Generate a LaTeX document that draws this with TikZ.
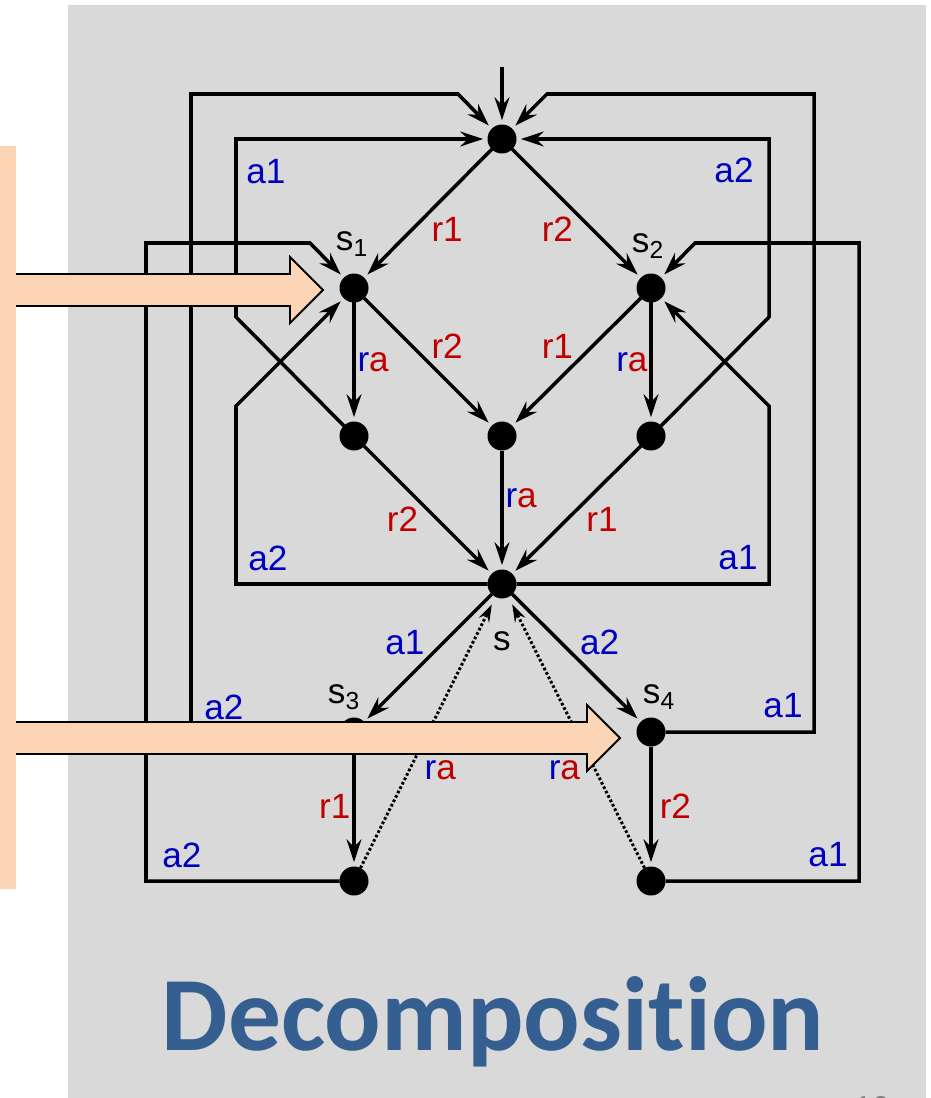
\documentclass[tikz,border=0pt]{standalone}
\usepackage{fontspec}
\setmainfont{Liberation Sans}
\newfontfamily\titlefont[Ligatures=NoCommon]{Carlito}
\usetikzlibrary{arrows.meta, positioning}

\definecolor{slidegray}{HTML}{D9D9D9}
\definecolor{peach}{HTML}{FBD5B5}
\definecolor{actblue}{HTML}{0000C0}
\definecolor{resred}{HTML}{C00000}
\definecolor{titleblue}{HTML}{365F91}

\newcommand{\ralab}{{\color{actblue}r}{\color{resred}a}}

\begin{document}
\begin{tikzpicture}[x=0.02cm, y=-0.02cm,
    st/.style={circle, fill=black, minimum size=0.58cm, inner sep=0pt, outer sep=0pt},
    tr/.style={line width=2pt, line join=miter, -{Stealth[length=13pt, width=8.5pt, inset=4.5pt]}, shorten >=2.5pt},
    obs/.style={line width=1.7pt, dash pattern=on 1.5pt off 1.3pt, -{Stealth[length=10pt, width=6.5pt, inset=3.5pt]}, shorten >=4.7pt},
    lab/.style={font=\fontsize{20}{24}\selectfont, inner sep=1pt},
    act/.style={lab, text=actblue},
    res/.style={lab, text=resred}]

    % Фон слайда
    \fill[white] (0,0) rectangle (930,1098);
    \fill[slidegray] (68,5) rectangle (926,1098);
    \useasboundingbox (0,0) rectangle (930,1098);

    % Состояния
    \node[st] (t) at (502,139) {};
    \node[st] (s1) at (354,288) {};
    \node[st] (s2) at (651,288) {};
    \node[st] (u1) at (354,436) {};
    \node[st] (u2) at (502,436) {};
    \node[st] (u3) at (651,436) {};
    \node[st] (s) at (502,584) {};
    \node[st] (s3) at (354,732) {};
    \node[st] (s4) at (651,732) {};
    \node[st] (v3) at (354,881) {};
    \node[st] (v4) at (651,881) {};

    % Имена состояний
    \node[lab] (n1) at (352,244) {s\textsubscript{1}};
    \node[lab] (n2) at (648,246) {s\textsubscript{2}};
    \node[lab] (n3) at (344,697) {s\textsubscript{3}};
    \node[lab] (n4) at (659,697) {s\textsubscript{4}};
    \node[lab] (n0) at (502,641) {s};

    % Вход
    \coordinate (in) at (502,67);
    \draw[tr] (in) -- (t);

    % Переходы
    \draw[tr] (t) -- (s1) node[res, midway, below right] (l1) {r1};
    \draw[tr] (t) -- (s2) node[res, midway, below left] (l2) {r2};
    \draw[tr] (s1) -- (u1) node[lab, midway, right] (l3) {\ralab};
    \draw[tr] (s1) -- (u2) node[res, midway, above right] (l4) {r2};
    \draw[tr] (s2) -- (u2) node[res, midway, above left] (l5) {r1};
    \draw[tr] (s2) -- (u3) node[lab, midway, left] (l6) {\ralab};
    \draw[tr] (u1) -- (s) node[res, pos=0.45, below left] (l7) {r2};
    \draw[tr] (u2) -- (s) node[lab, pos=0.4, right] (l8) {\ralab};
    \draw[tr] (u3) -- (s) node[res, pos=0.45, below right] (l9) {r1};
    \draw[tr] (s) -- (s3) node[act, midway, above left] (l10) {a1};
    \draw[tr] (s) -- (s4) node[act, midway, above right] (l11) {a2};
    \draw[tr] (s3) -- (v3) node[res, midway, left] (l12) {r1};
    \draw[tr] (s4) -- (v4) node[res, midway, right=3pt] (l13) {r2};

    % Наблюдения
    \draw[obs] (v3) -- (s) node[lab, pos=0.36, right=7pt] (l14) {\ralab};
    \draw[obs] (v4) -- (s) node[lab, pos=0.36, left=7pt] (l15) {\ralab};

    % Обратные переходы
    \draw[tr] (s3) -- (191,732) -- (191,94) -- (458,94) -- (t) node[act] (l16) at (224,707) {a2};
    \draw[tr] (u1) -- (236,317) -- (236,139) -- (t) node[act] (l17) at (266,172) {a1};
    \draw[tr] (u3) -- (769,317) -- (769,139) -- (t) node[act] (l18) at (734,170) {a2};
    \draw[tr] (s4) -- (814,732) -- (814,94) -- (547,94) -- (t) node[act] (l19) at (783,706) {a1};
    \draw[tr] (v3) -- (146,881) -- (146,243) -- (310,243) -- (s1) node[act] (l20) at (182,855) {a2};
    \draw[tr] (s) -- (236,584) -- (236,406) -- (s1) node[act] (l21) at (268,558) {a2};
    \draw[tr] (s) -- (769,584) -- (769,406) -- (s2) node[act] (l22) at (738,558) {a1};
    \draw[tr] (v4) -- (859,881) -- (859,243) -- (695,243) -- (s2) node[act] (l23) at (828,855) {a1};

    % Стрелки декомпозиции
    \fill[peach] (0,146) rectangle (16,889);
    \foreach \y/\x in {290/290, 738/587} {
        \fill[peach] (16,\y-16) -- (\x,\y-16) -- (\x,\y-33) -- (\x+33,\y) -- (\x,\y+33) -- (\x,\y+16) -- (16,\y+16) -- cycle;
        \draw[line width=1.1pt, line join=miter] (16,\y-16) -- (\x,\y-16) -- (\x,\y-33) -- (\x+33,\y) -- (\x,\y+33) -- (\x,\y+16) -- (16,\y+16);
    }

    % Заголовок
    \node[font=\titlefont\bfseries\fontsize{60}{72}\selectfont, text=titleblue, anchor=base] (title) at (493,1050) {Decomposition};
    \node[font=\fontsize{18}{20}\selectfont, text=gray, anchor=north] (pg) at (872,1090) {10};
\end{tikzpicture}
\end{document}
